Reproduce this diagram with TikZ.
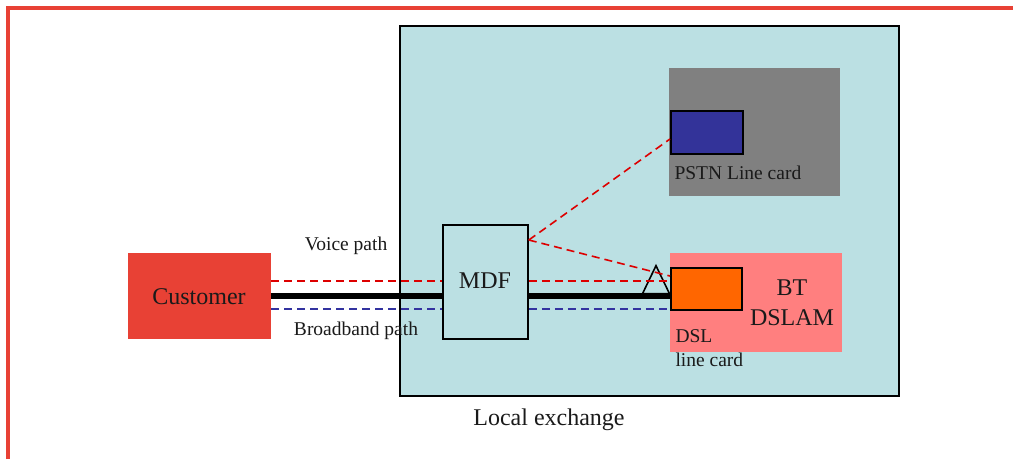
\documentclass[tikz,border=0pt]{standalone}
\usepackage{fontspec}
\setmainfont{Liberation Serif}
\usetikzlibrary{shapes.geometric}
\definecolor{frame}{HTML}{E84135}
\definecolor{exch}{HTML}{BBE0E3}
\definecolor{pstngrey}{HTML}{808080}
\definecolor{pstnblue}{HTML}{333399}
\definecolor{dslpink}{HTML}{FF7F7F}
\definecolor{dslorange}{HTML}{FF6600}
\definecolor{voicered}{HTML}{DD0000}
\definecolor{bbblue}{HTML}{3333A0}
\definecolor{ink}{HTML}{1A1A1A}
\begin{document}
\begin{tikzpicture}[x=1pt,y=-1pt,
  box/.style={rectangle,inner sep=0pt,anchor=north west},
  card/.style={box,draw=black,line width=1.8pt},
  big/.style={font=\fontsize{24}{30}\selectfont,text=ink},
  small/.style={font=\fontsize{19.5}{24}\selectfont,text=ink},
  voice/.style={voicered,line width=1.6pt,dash pattern=on 8pt off 5pt},
  bband/.style={bbblue,line width=1.6pt,dash pattern=on 8pt off 5pt},
  trunk/.style={black,line width=6pt}]
\useasboundingbox (0,0) rectangle (1013,459);
\fill[white] (0,0) rectangle (1013,459);
% outer frame, top and left edges
\draw[frame,line width=4pt] (8.3,459) -- (8.3,7.8) -- (1013,7.8);

% local exchange building
\node[box,draw=black,line width=2pt,fill=exch,minimum width=499pt,minimum height=370pt] (exch) at (399,25) {};
\node[big,anchor=center] (exlabel) at (549,420) {Local exchange};

% PSTN switch and its line card
\node[box,fill=pstngrey,minimum width=171pt,minimum height=128pt] (pstn) at (669,68) {};
\node[card,fill=pstnblue,minimum width=72pt,minimum height=43pt] (pstncard) at (670,110) {};
\node[small,anchor=west] (pstnlabel) at (671,173) {PSTN Line card};

% DSLAM and its line card
\node[box,fill=dslpink,minimum width=172pt,minimum height=99pt] (dslam) at (670,253) {};
\node[card,fill=dslorange,minimum width=71pt,minimum height=42pt] (dslcard) at (670,267) {};
\node[big,anchor=center,align=center] (dslamlabel) at (792,303) {BT\\DSLAM};
\node[small,anchor=west] (dsllabel) at (672,336) {DSL};
\node[small,anchor=west] (lclabel) at (672,360) {line card};

% main distribution frame
\node[box,draw=black,line width=1.8pt,fill=exch,minimum width=85pt,minimum height=114pt] (mdf) at (442,224) {};
\node[big,anchor=center] (mdflabel) at (485,281) {MDF};

% customer premises
\node[box,fill=frame,minimum width=143pt,minimum height=86pt] (cust) at (128,253) {};
\node[big,anchor=center] (custlabel) at (199,297) {Customer};

% path labels
\node[small,anchor=center] (vlabel) at (346,246) {Voice path};
\node[small,anchor=center] (blabel) at (356,331) {Broadband path};

% connection points
\coordinate (cv) at (cust.east |- 0,281);
\coordinate (cb) at (cust.east |- 0,309);
\coordinate (mv) at (mdf.west |- 0,281);
\coordinate (mb) at (mdf.west |- 0,309);
\coordinate (mvo) at (mdf.east |- 0,281);
\coordinate (mbo) at (mdf.east |- 0,309);
\coordinate (dv) at (dslcard.west |- 0,281);
\coordinate (db) at (dslcard.west |- 0,309);
\coordinate (msplit) at (mdf.east |- 0,240);
\coordinate (pin) at (pstncard.west |- 0,139);
\coordinate (din) at (dslcard.west |- 0,276);

% copper pair
\draw[trunk] (cust.east |- 0,296) -- (mdf.west |- 0,296);
\draw[trunk] (mdf.east |- 0,296) -- (dslcard.west |- 0,296);

% splitter / filter
\node[draw=black,line width=1.6pt,fill=exch,isosceles triangle,isosceles triangle stretches,
  shape border rotate=90,inner sep=0pt,minimum height=28pt,minimum width=27pt,anchor=south] (filter) at (656,294.5) {};

% voice and broadband paths
\draw[voice] (cv) -- (mv);
\draw[bband] (cb) -- (mb);
\draw[voice] (mvo) -- (dv);
\draw[bband] (mbo) -- (db);
\draw[voice] (msplit) -- (pin);
\draw[voice] (msplit) -- (din);
\end{tikzpicture}
\end{document}
